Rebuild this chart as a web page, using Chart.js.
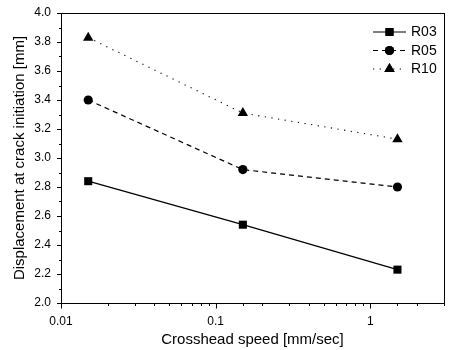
<!DOCTYPE html>
<html>
<head>
<meta charset="utf-8">
<script src="https://cdn.jsdelivr.net/npm/chart.js@4/dist/chart.umd.min.js"></script>
<style>
  html, body { margin: 0; padding: 0; background: #fff; }
  #wrap { width: 450px; height: 350px; }
</style>
</head>
<body>
<div id="wrap"><canvas id="chart"></canvas></div>
<script>
// crosshead speeds [mm/sec] and displacement at crack initiation [mm]
const speeds = [0.015, 0.15, 1.5];
const r03 = [2.84, 2.54, 2.23];
const r05 = [3.40, 2.92, 2.80];
const r10 = [3.83, 3.31, 3.13];
const seriesNames = ['R03', 'R05', 'R10'];
const xTickLabels = [0.01, 0.1, 1];
const yTickLabels = [2.0, 2.2, 2.4, 2.6, 2.8, 3.0, 3.2, 3.4, 3.6, 3.8, 4.0];

const FONT = 'Arial, "Liberation Sans", sans-serif';
Chart.defaults.font.family = FONT;
Chart.defaults.color = '#000';

const toPoints = ys => speeds.map((x, i) => ({ x, y: ys[i] }));
const near = (a, b) => Math.abs(a - b) < 1e-9 * Math.max(1, Math.abs(b));

const series = [
  { data: r03, style: 'rect', radius: 5.7, dash: [] },
  { data: r05, style: 'circle', radius: 4.6, dash: [5, 4] },
  { data: r10, style: 'triangle', radius: 6, dash: [1.2, 5.5] }
];

// frame, outward tick marks and the in-plot legend
const decor = {
  id: 'decor',
  afterDraw(chart) {
    const { ctx, chartArea: a, scales } = chart;
    ctx.save();
    ctx.strokeStyle = '#000';
    ctx.lineWidth = 1;
    ctx.strokeRect(Math.round(a.left) + 0.5, Math.round(a.top) + 0.5,
      Math.round(a.right - a.left), Math.round(a.bottom - a.top));

    const xs = scales.x;
    const bottom = Math.round(a.bottom) + 0.5;
    ctx.beginPath();
    xs.ticks.forEach(t => {
      const px = Math.round(xs.getPixelForValue(t.value)) + 0.5;
      const major = xTickLabels.some(v => near(v, t.value));
      ctx.moveTo(px, bottom);
      ctx.lineTo(px, bottom + (major ? 5 : 2.5));
    });
    const ys = scales.y;
    const left = Math.round(a.left) + 0.5;
    ys.ticks.forEach(t => {
      const py = Math.round(ys.getPixelForValue(t.value)) + 0.5;
      const major = yTickLabels.some(v => near(v, t.value));
      ctx.moveTo(left, py);
      ctx.lineTo(left - (major ? 4.5 : 2.5), py);
    });
    ctx.stroke();

    // legend: line sample with marker, then name
    ctx.font = '14px ' + FONT;
    ctx.textBaseline = 'middle';
    ctx.textAlign = 'left';
    chart.data.datasets.forEach((ds, i) => {
      const y = 32 + i * 18.5;
      ctx.beginPath();
      ctx.setLineDash(ds.borderDash || []);
      ctx.lineWidth = ds.borderWidth;
      ctx.moveTo(373, y);
      ctx.lineTo(406, y);
      ctx.stroke();
      ctx.setLineDash([]);
      ctx.fillStyle = '#000';
      Chart.helpers.drawPoint(ctx, {
        pointStyle: ds.pointStyle, radius: ds.pointRadius, borderWidth: 0, rotation: 0
      }, 389.5, y);
      ctx.fill();
      ctx.fillText(ds.label, 411, y + 0.5);
    });
    ctx.restore();
  }
};

new Chart(document.getElementById('chart'), {
  type: 'scatter',
  data: {
    datasets: series.map((s, i) => ({
      label: seriesNames[i],
      data: toPoints(s.data),
      showLine: true,
      borderColor: '#000',
      borderWidth: i === 2 ? 1.1 : 1.2,
      borderDash: s.dash,
      backgroundColor: '#000',
      pointStyle: s.style,
      pointRadius: s.radius,
      pointHoverRadius: s.radius,
      pointBorderWidth: 0,
      pointBackgroundColor: '#000'
    }))
  },
  options: {
    responsive: true,
    maintainAspectRatio: false,
    animation: false,
    layout: { padding: { left: 0, right: 3, top: 13, bottom: 0 } },
    plugins: { legend: { display: false }, tooltip: { enabled: false } },
    scales: {
      x: {
        type: 'logarithmic',
        min: 0.01,
        max: 3,
        // tick marks are drawn by the decor plugin; tickLength only offsets labels
        grid: { display: false, drawTicks: true, tickLength: 11 },
        border: { display: false },
        ticks: {
          autoSkip: false,
          maxRotation: 0,
          padding: 0,
          font: { size: 12 },
          callback: v => {
            const m = xTickLabels.find(t => near(t, v));
            return m === undefined ? '' : String(m);
          }
        },
        title: {
          display: true,
          text: 'Crosshead speed [mm/sec]',
          font: { size: 15 },
          padding: { top: 0, bottom: 1 }
        },
        afterFit: s => { s.height = 47; }
      },
      y: {
        min: 2,
        max: 4,
        grid: { display: false, drawTicks: true, tickLength: 10 },
        border: { display: false },
        ticks: {
          stepSize: 0.1,
          autoSkip: false,
          padding: 0,
          font: { size: 12 },
          callback: v => {
            const m = yTickLabels.find(t => near(t, v));
            return m === undefined ? '' : m.toFixed(1);
          }
        },
        title: {
          display: true,
          text: 'Displacement at crack initiation [mm]',
          font: { size: 15 },
          padding: { top: 11, bottom: 0 }
        },
        afterFit: s => { s.width = 61; }
      }
    }
  },
  plugins: [decor]
});
</script>
</body>
</html>
